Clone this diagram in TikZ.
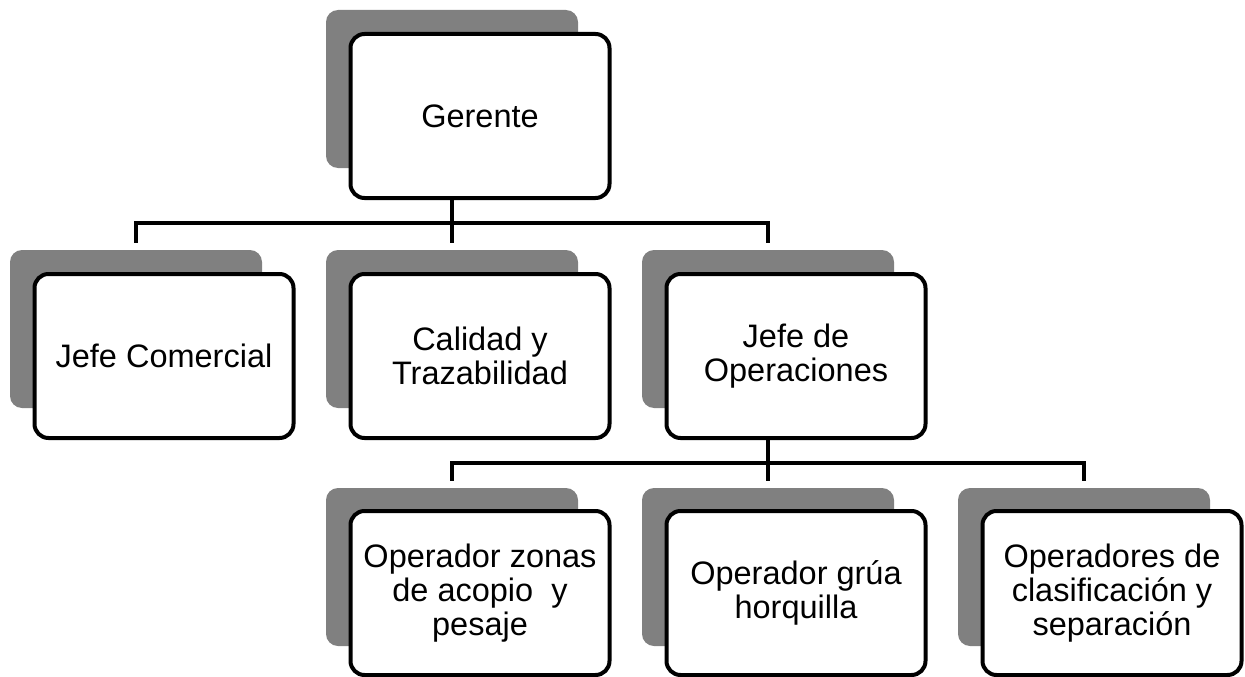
\documentclass[tikz,border=0pt]{standalone}
\usepackage{fontspec}
\setmainfont{Liberation Sans}
\usepackage{tikz}
\definecolor{shadegray}{RGB}{128,128,128}

\begin{document}
\begin{tikzpicture}[x=1pt,y=-1pt]
\tikzstyle{every node}+=[inner sep=0pt]
\tikzstyle{back}=[fill=shadegray, rounded corners=12pt, minimum width=252pt, minimum height=158pt]
\tikzstyle{card}=[draw=black, line width=4pt, fill=white, rounded corners=14pt, minimum width=259pt, minimum height=164pt, align=center, font=\fontsize{32.5}{34}\selectfont]
\tikzstyle{link}=[draw=black, line width=4pt]
\useasboundingbox (0,0) rectangle (1245,677);
\node [back] (g) at (452,89) {};
\node [back] (jc) at (136,329) {};
\node [back] (cal) at (452,329) {};
\node [back] (jo) at (768,329) {};
\node [back] (oz) at (452,567) {};
\node [back] (og) at (768,567) {};
\node [back] (oc) at (1084,567) {};
\coordinate (bar1) at (452,223);
\coordinate (bar2) at (768,463);
\node [card] (gc) at (480,116) {Gerente};
\node [card] (jcc) at (164,356) {Jefe Comercial};
\node [card] (calc) at (480,356) {Calidad y\\Trazabilidad};
\node [card] (joc) at (796,356) {Jefe de\\Operaciones};
\node [card] (ozc) at (480,593) {Operador zonas\\de acopio~ y\\pesaje};
\node [card] (ogc) at (796,593) {Operador grúa\\horquilla};
\node [card] (occ) at (1112,593) {Operadores de\\clasificación y\\separación};
\draw [link] (gc.south -| g) -- ([yshift=7pt]cal.north);
\draw [link] (bar1) -| ([yshift=7pt]jc.north);
\draw [link] (bar1) -| ([yshift=7pt]jo.north);
\draw [link] (joc.south -| jo) -- ([yshift=7pt]og.north);
\draw [link] (bar2) -| ([yshift=7pt]oz.north);
\draw [link] (bar2) -| ([yshift=7pt]oc.north);
\end{tikzpicture}
\end{document}
